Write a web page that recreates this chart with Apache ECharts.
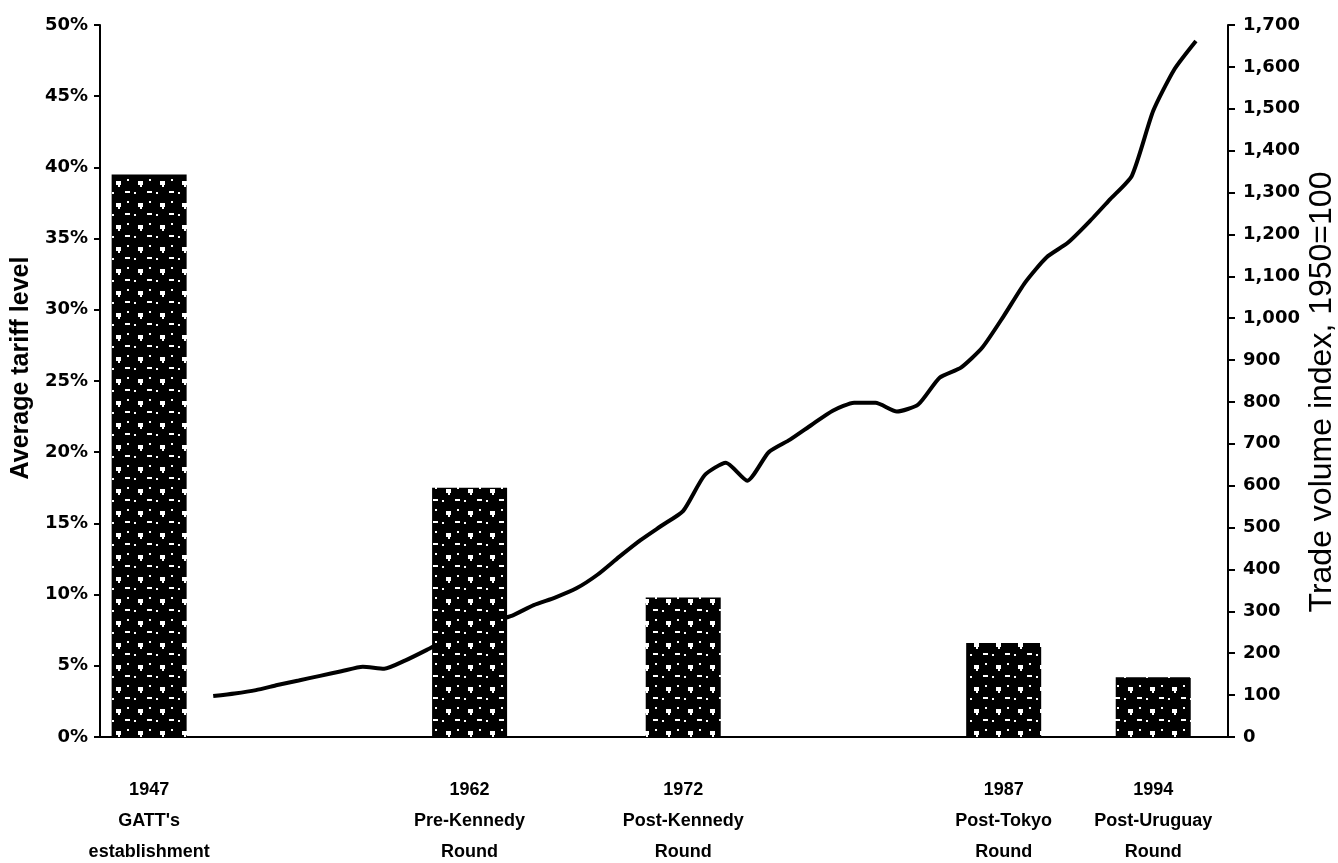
<!DOCTYPE html>
<html>
<head>
<meta charset="utf-8">
<script src="https://cdn.jsdelivr.net/npm/echarts@6/dist/echarts.min.js"></script>
<style>
html,body{margin:0;padding:0;background:#fff;}
#chart{width:1338px;height:863px;}
</style>
</head>
<body>
<div id="chart"></div>
<script>
// ---- Data ----
const roundYears = [1947, 1962, 1972, 1987, 1994];
const roundNames = ["GATT's\nestablishment", "Pre-Kennedy\nRound", "Post-Kennedy\nRound", "Post-Tokyo\nRound", "Post-Uruguay\nRound"];
const tariffLevels = [39.5, 17.5, 9.8, 6.6, 4.2];

const tradeYears = [1950,1951,1952,1953,1954,1955,1956,1957,1958,1959,
                    1960,1961,1962,1963,1964,1965,1966,1967,1968,1969,
                    1970,1971,1972,1973,1974,1975,1976,1977,1978,1979,
                    1980,1981,1982,1983,1984,1985,1986,1987,1988,1989,
                    1990,1991,1992,1993,1994,1995,1996];
const tradeIndex = [98,104,112,124,135,146,157,168,163,183,
                    208,235,255,275,290,315,333,355,388,430,
                    470,505,540,625,655,612,680,710,745,779,
                    798,798,777,794,858,882,930,1005,1085,1145,
                    1180,1230,1285,1340,1495,1595,1662];

const leftTicks = {min: 0, max: 50, interval: 5};
const rightTicks = {min: 0, max: 1700, interval: 100};

// ---- Speckled bar pattern ----
function makePattern() {
  const c = document.createElement('canvas');
  c.width = 22; c.height = 22;
  const g = c.getContext('2d');
  g.fillStyle = '#000';
  g.fillRect(0, 0, 22, 22);
  g.fillStyle = '#fff';
  g.fillRect(6, 5, 5, 4);
  g.fillRect(8, 9, 2, 2);
  g.fillRect(15, 15, 5, 2);
  g.fillRect(2, 16, 2, 2);
  g.fillRect(17, 3, 2, 2);
  return c;
}
const pattern = makePattern();

const chart = echarts.init(document.getElementById('chart'), null, {renderer: 'canvas'});

const tickFont = "'DejaVu Sans', sans-serif";
const option = {
  backgroundColor: '#fff',
  animation: false,
  grid: {left: 100, right: 110, top: 25, bottom: 126, containLabel: false, outerBoundsMode: 'none'},
  xAxis: {
    type: 'value',
    min: 1944.7,
    max: 1997.5,
    splitLine: {show: false},
    axisLine: {show: true, onZero: false, lineStyle: {color: '#000', width: 2}},
    axisTick: {show: false},
    axisLabel: {
      customValues: roundYears,
      margin: 38,
      color: '#000',
      fontFamily: "'Liberation Sans', Arial, sans-serif",
      fontSize: 18,
      fontWeight: 'bold',
      lineHeight: 31,
      align: 'center',
      formatter: function (v) {
        const i = roundYears.indexOf(Math.round(v));
        return i >= 0 ? roundYears[i] + '\n' + roundNames[i] : '';
      }
    }
  },
  yAxis: [
    {
      type: 'value',
      min: leftTicks.min, max: leftTicks.max, interval: leftTicks.interval,
      name: 'Average tariff level',
      nameLocation: 'middle',
      nameRotate: 90,
      nameGap: 64,
      nameTextStyle: {color: '#000', fontFamily: "'Liberation Sans', Arial, sans-serif", fontSize: 25, fontWeight: 'bold', padding: [0, 0, 0, 26]},
      splitLine: {show: false},
      axisLine: {show: true, lineStyle: {color: '#000', width: 2}},
      axisTick: {show: true, length: 6, lineStyle: {color: '#000', width: 2}},
      axisLabel: {color: '#000', fontFamily: tickFont, fontSize: 18, fontWeight: 'bold', margin: 12, formatter: '{value}%'}
    },
    {
      type: 'value',
      position: 'right',
      min: rightTicks.min, max: rightTicks.max, interval: rightTicks.interval,
      name: 'Trade volume index, 1950=100',
      nameLocation: 'middle',
      nameRotate: 90,
      nameGap: 78,
      nameMoveOverlap: false,
      nameTextStyle: {color: '#000', fontFamily: "'Liberation Sans', Arial, sans-serif", fontSize: 32, padding: [0, 22, 0, 0]},
      splitLine: {show: false},
      axisLine: {show: true, lineStyle: {color: '#000', width: 2}},
      axisTick: {show: true, length: 7, lineStyle: {color: '#000', width: 2}},
      axisLabel: {
        color: '#000', fontFamily: tickFont, fontSize: 18, fontWeight: 'bold', margin: 15,
        formatter: function (v) { return v.toString().replace(/\B(?=(\d{3})+(?!\d))/g, ','); }
      }
    }
  ],
  series: [
    {
      name: 'Trade volume',
      type: 'line',
      yAxisIndex: 1,
      z: 1,
      data: tradeYears.map((y, i) => [y, tradeIndex[i]]),
      symbol: 'none',
      smooth: 0.2,
      lineStyle: {color: '#000', width: 4}
    },
    {
      name: 'Tariff',
      type: 'bar',
      yAxisIndex: 0,
      z: 3,
      barWidth: 75,
      data: roundYears.map((y, i) => [y, tariffLevels[i]]),
      itemStyle: {color: {image: pattern, repeat: 'repeat'}}
    }
  ]
};
chart.setOption(option);
</script>
</body>
</html>
